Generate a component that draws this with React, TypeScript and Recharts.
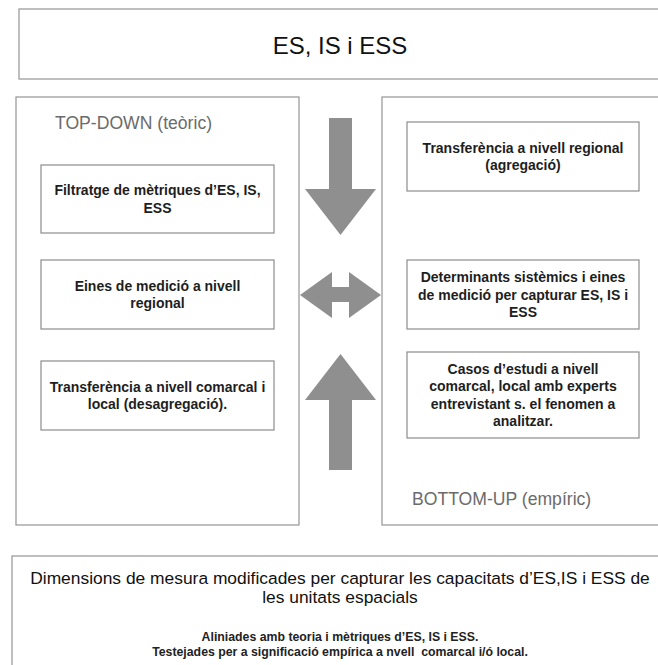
import { ComposedChart, XAxis, YAxis, ReferenceArea } from 'recharts'

// diagram units: the x/y domains match the picture size, y grows downwards
const WIDTH = 658
const HEIGHT = 665

// frames
const frameIds = ['title', 'topDown', 'bottomUp', 'dimensions']
const frameX = [[19, 661], [16, 299], [382, 700], [12, 668]]
const frameY = [[9, 79], [97, 525], [97, 525], [556, 720]]

// inner boxes, left column (top-down) and right column (bottom-up)
const leftColX = [41, 274]
const leftBoxY = [[165, 233], [260, 329], [361, 430]]
const leftBoxText = [
  ['Filtratge de mètriques d’ES, IS,', 'ESS'],
  ['Eines de medició a nivell', 'regional'],
  ['Transferència a nivell comarcal i', 'local (desagregació).'],
]
const rightColX = [407, 639]
const rightBoxY = [[122, 191], [260, 329], [352, 438]]
const rightBoxText = [
  ['Transferència a nivell regional', '(agregació)'],
  ['Determinants sistèmics i eines', 'de medició per capturar ES, IS i', 'ESS'],
  ['Casos d’estudi a nivell', 'comarcal, local amb experts', 'entrevistant s. el fenomen a', 'analitzar.'],
]

// section captions
const captionText = ['TOP-DOWN (teòric)', 'BOTTOM-UP (empíric)']
const captionX = [[55, 215], [412, 600]]
const captionY = [[113, 133], [489, 509]]

// arrow pieces: shafts are plain rects, heads are triangles pointing `dir`
const shaftX = [[329, 352], [329, 352], [331, 350]]
const shaftY = [[118, 190], [399, 470], [287, 302]]
const headDir = ['down', 'up', 'left', 'right']
const headX = [[305, 376], [305, 376], [300, 332], [349, 381]]
const headY = [[189, 235], [354, 400], [272, 318], [272, 318]]

const titleText = 'ES, IS i ESS'
const dimensionsText = ['Dimensions de mesura modificades per capturar les capacitats d’ES,IS i ESS de', 'les unitats espacials']
const dimensionsNotes = ['Aliniades amb teoria i mètriques d’ES, IS i ESS.', 'Testejades per a significació empírica a nvell  comarcal i/ó local.']

const FONT = '"Liberation Sans", Arial, Helvetica, sans-serif'
const ARROW = '#8f8f8f'

const boxShape = (lines: string[]) => (p: any) => {
  const { x, y, width, height } = p
  const lh = 17.5
  const cx = x + width / 2
  const top = y + height / 2 - ((lines.length - 1) * lh) / 2
  return (
    <g>
      <rect x={x} y={y} width={width} height={height} fill="#fff" stroke="#8c8c8c" strokeWidth={1.2} />
      <text textAnchor="middle" fontFamily={FONT} fontSize={14} fontWeight={700} fill="#1e1e1e">
        {lines.map((l, i) => (
          <tspan key={i} x={cx} y={top + i * lh} dominantBaseline="central">{l}</tspan>
        ))}
      </text>
    </g>
  )
}

const frameShape = (id: string) => (p: any) => {
  const { x, y, width, height } = p
  const cx = x + width / 2
  return (
    <g>
      <rect x={x} y={y} width={width} height={height} fill="none" stroke="#949494" strokeWidth={1.2} />
      {id === 'title' && (
        <text x={cx} y={y + height / 2 + 1} textAnchor="middle" dominantBaseline="central"
          fontFamily={FONT} fontSize={24} fill="#111">{titleText}</text>
      )}
      {id === 'dimensions' && (
        <g fontFamily={FONT} textAnchor="middle">
          {dimensionsText.map((l, i) => (
            <text key={l} x={cx} y={y + 28 + i * 19} fontSize={17.4} fill="#111">{l}</text>
          ))}
          {dimensionsNotes.map((l, i) => (
            <text key={l} x={cx} y={y + 85 + i * 15} fontSize={12.3} fontWeight={700} fill="#222"
              style={{ whiteSpace: 'pre' }}>{l}</text>
          ))}
        </g>
      )}
    </g>
  )
}

const captionShape = (label: string) => (p: any) => (
  <text x={p.x} y={p.y + p.height / 2} dominantBaseline="central" fontFamily={FONT}
    fontSize={17.6} fill="#6b6b6b">{label}</text>
)

const headShape = (dir: string) => (p: any) => {
  const { x, y, width: w, height: h } = p
  const pts: Record<string, number[][]> = {
    down: [[x, y], [x + w, y], [x + w / 2, y + h]],
    up: [[x + w / 2, y], [x + w, y + h], [x, y + h]],
    left: [[x, y + h / 2], [x + w, y], [x + w, y + h]],
    right: [[x, y], [x + w, y + h / 2], [x, y + h]],
  }
  return <polygon points={pts[dir].map(q => q.join(',')).join(' ')} fill={ARROW} />
}

const shaftShape = (p: any) => (
  <rect x={p.x} y={p.y} width={p.width} height={p.height} fill={ARROW} />
)

export default function App() {
  return (
    <div style={{ position: 'absolute', left: 0, top: 0, width: WIDTH, height: HEIGHT, background: '#fff' }}>
      <ComposedChart width={WIDTH} height={HEIGHT} data={[{ x: 0, y: 0 }, { x: WIDTH, y: HEIGHT }]}
        margin={{ top: 0, right: 0, bottom: 0, left: 0 }}>
        <XAxis type="number" dataKey="x" domain={[0, WIDTH]} hide allowDataOverflow />
        <YAxis type="number" dataKey="y" domain={[0, HEIGHT]} reversed hide allowDataOverflow />

        {frameIds.map((id, i) => (
          <ReferenceArea key={id} x1={frameX[i][0]} x2={frameX[i][1]} y1={frameY[i][0]} y2={frameY[i][1]}
            ifOverflow="visible" shape={frameShape(id)} />
        ))}

        {captionText.map((c, i) => (
          <ReferenceArea key={c} x1={captionX[i][0]} x2={captionX[i][1]} y1={captionY[i][0]} y2={captionY[i][1]}
            ifOverflow="visible" shape={captionShape(c)} />
        ))}

        {leftBoxY.map((yy, i) => (
          <ReferenceArea key={'l' + i} x1={leftColX[0]} x2={leftColX[1]} y1={yy[0]} y2={yy[1]}
            ifOverflow="visible" shape={boxShape(leftBoxText[i])} />
        ))}
        {rightBoxY.map((yy, i) => (
          <ReferenceArea key={'r' + i} x1={rightColX[0]} x2={rightColX[1]} y1={yy[0]} y2={yy[1]}
            ifOverflow="visible" shape={boxShape(rightBoxText[i])} />
        ))}

        {shaftX.map((xx, i) => (
          <ReferenceArea key={'s' + i} x1={xx[0]} x2={xx[1]} y1={shaftY[i][0]} y2={shaftY[i][1]}
            ifOverflow="visible" shape={shaftShape} />
        ))}
        {headDir.map((d, i) => (
          <ReferenceArea key={'h' + i} x1={headX[i][0]} x2={headX[i][1]} y1={headY[i][0]} y2={headY[i][1]}
            ifOverflow="visible" shape={headShape(d)} />
        ))}
      </ComposedChart>
    </div>
  )
}
